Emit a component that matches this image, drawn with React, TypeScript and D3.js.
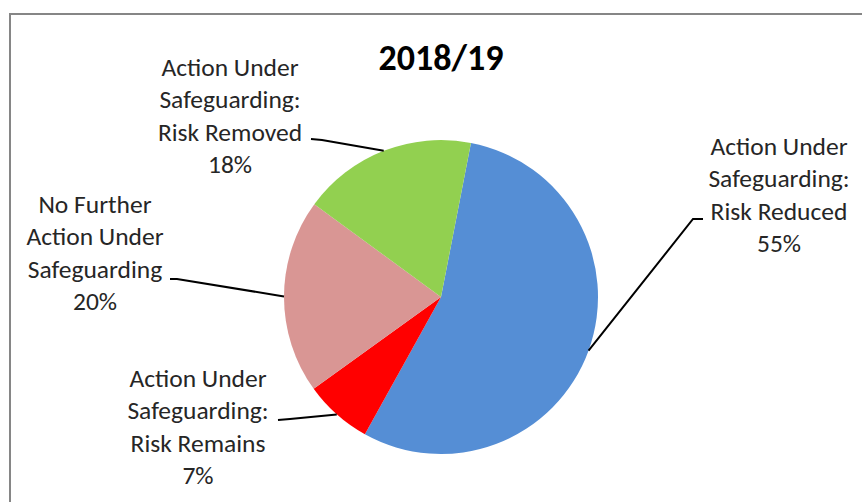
import { useEffect, useRef } from "react";
import * as d3 from "d3";

const categories = [
    "Action Under Safeguarding: Risk Reduced",
    "Action Under Safeguarding: Risk Remains",
    "No Further Action Under Safeguarding",
    "Action Under Safeguarding: Risk Removed",
];
const values = [55, 7, 20, 18];
const labelLines = [
    ["Action Under", "Safeguarding:", "Risk Reduced", "55%"],
    ["Action Under", "Safeguarding:", "Risk Remains", "7%"],
    ["No Further", "Action Under", "Safeguarding", "20%"],
    ["Action Under", "Safeguarding:", "Risk Removed", "18%"],
];
const colors = ["#558ED5", "#FF0000", "#D99694", "#92D050"];

export default function App() {
    const svgRef = useRef<SVGSVGElement>(null);

    useEffect(() => {
        if (!svgRef.current) return;
        const svg = d3.select(svgRef.current);
        svg.selectAll("*").remove();

        const width = 862;
        const height = 502;
        const cx = 441, cy = 297, r = 157;
        const font = "Carlito, Calibri, Lato, sans-serif";

        // chart frame (runs off the right/bottom of the picture)
        svg.append("rect")
            .attr("x", 10).attr("y", 14)
            .attr("width", width + 20).attr("height", height + 20)
            .style("fill", "#fff")
            .style("stroke", "#868686")
            .style("stroke-width", 2);

        svg.append("text")
            .attr("x", cx).attr("y", 70)
            .attr("text-anchor", "middle")
            .style("font-family", font)
            .style("font-size", "36px")
            .style("font-weight", "700")
            .style("fill", "#000")
            .text("2018/19");

        const pie = d3.pie<number>()
            .sort(null)
            .value(d => d)
            .startAngle(11 * Math.PI / 180)
            .endAngle(11 * Math.PI / 180 + 2 * Math.PI);
        const arcs = pie(values);
        const arc = d3.arc<d3.PieArcDatum<number>>().innerRadius(0).outerRadius(r);

        const g = svg.append("g").attr("transform", `translate(${cx},${cy})`);
        g.selectAll("path")
            .data(arcs)
            .enter()
            .append("path")
            .attr("d", arc)
            .style("fill", (_, i) => colors[i]);

        // label layout: text centre x, first baseline, leader elbow point and end
        const layout = [
            { x: 779, y: 155, elbow: [693, 219], end: [703, 219] },
            { x: 198, y: 387, elbow: [290, 419], end: [278, 420] },
            { x: 95, y: 213, elbow: [177, 279], end: [170, 279] },
            { x: 230, y: 76, elbow: [322, 140], end: [311, 139] },
        ];
        const lineH = 32.3;

        arcs.forEach((a, i) => {
            const mid = (a.startAngle + a.endAngle) / 2;
            const px = cx + r * Math.sin(mid);
            const py = cy - r * Math.cos(mid);
            const L = layout[i];
            svg.append("polyline")
                .attr("points", `${px},${py} ${L.elbow[0]},${L.elbow[1]} ${L.end[0]},${L.end[1]}`)
                .style("fill", "none")
                .style("stroke", "#000")
                .style("stroke-width", 2);

            const t = svg.append("text")
                .attr("text-anchor", "middle")
                .style("font-family", font)
                .style("font-size", "25.5px")
                .style("fill", "#262626");
            labelLines[i].forEach((ln, j) => {
                t.append("tspan")
                    .attr("x", L.x)
                    .attr("y", L.y + j * lineH)
                    .text(ln);
            });
        });
        svg.append("title").text(categories.join(", "));
    }, []);

    return (
        <svg
            ref={svgRef}
            width={862}
            height={502}
            style={{ position: "absolute", left: 0, top: 0, background: "#fff" }}
        />
    );
}
